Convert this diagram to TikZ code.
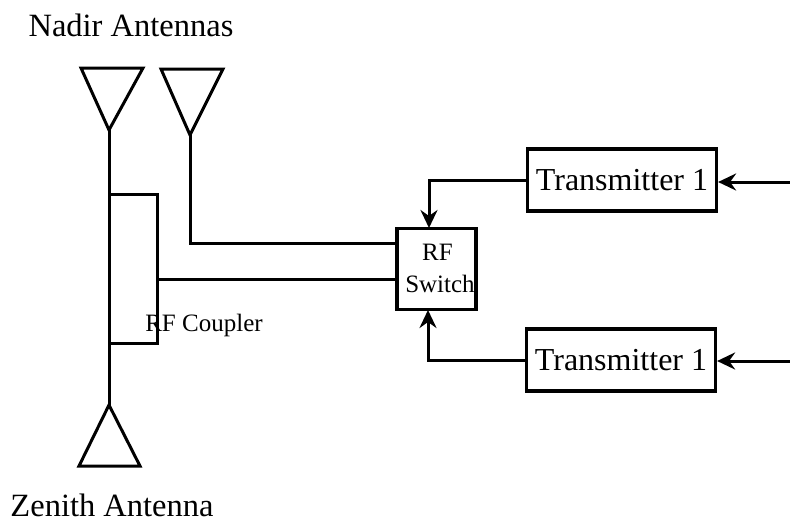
\documentclass[tikz,border=0pt]{standalone}
\usepackage{fontspec}
\setmainfont{Liberation Serif}
\usetikzlibrary{arrows.meta}

\tikzset{
  wire/.style={line width=3pt},
  feed/.style={wire, -{Stealth[length=18pt,width=17pt,inset=6pt]}},
  txbox/.style={draw, rectangle, line width=3.2pt, minimum width=189pt, minimum height=62pt, inner sep=0pt, font=\fontsize{32}{32}\selectfont},
  swbox/.style={draw, rectangle, line width=3.2pt, minimum width=79pt, minimum height=81pt, inner sep=0pt},
  biglabel/.style={font=\fontsize{32.5}{32.5}\selectfont, inner sep=0pt},
  smalllabel/.style={font=\fontsize{25}{25}\selectfont, inner sep=0pt}
}

\begin{document}
\begin{tikzpicture}[x=1pt, y=-1pt]
          \useasboundingbox (0, 0) rectangle (790, 523);

          % Nodes for boxes
          \node[txbox] (T1) at (622, 180) {Transmitter 1};
          \node[txbox] (T2) at (621, 360) {Transmitter 1};
          \node[swbox] (SW) at (436.5, 269) {};

          % Labels
          \node[biglabel] (nadir) at (131, 25) {Nadir Antennas};
          \node[biglabel] (zenith) at (112, 505) {Zenith Antenna};
          \node[smalllabel] (rflabel) at (437.5, 252) {RF};
          \node[smalllabel] (swlabel) at (440, 284) {Switch};
          \node[smalllabel] (cplabel) at (204, 325) {RF Coupler};

          % Antenna points
          \coordinate (N1a) at (81, 68);
          \coordinate (N1b) at (143, 68);
          \coordinate (N1) at (109, 130);
          \coordinate (N2a) at (161, 69);
          \coordinate (N2b) at (223, 69);
          \coordinate (N2) at (190, 135);
          \coordinate (Z) at (109, 405);
          \coordinate (Za) at (79, 466);
          \coordinate (Zb) at (140, 466);

          % Coupler points
          \coordinate (C1) at (109, 194);
          \coordinate (C2) at (157, 194);
          \coordinate (C3) at (157, 343);
          \coordinate (C4) at (109, 343);
          \coordinate (C5) at (157, 279);

          % Free ends on the right
          \coordinate (T1in) at (790, 182);
          \coordinate (T2in) at (790, 361);
          \coordinate (SWa) at (429, 228);
          \coordinate (SWb) at (428, 310);

          % Antennas
          \draw [wire, line join=miter] (N1a) -- (N1b) -- (N1) -- cycle;
          \draw [wire, line join=miter] (N2a) -- (N2b) -- (N2) -- cycle;
          \draw [wire, line join=miter] (Z) -- (Za) -- (Zb) -- cycle;

          % Plain wires
          \draw [wire] (N1) -- (Z);
          \draw [wire] (C1) -- (C2) -- (C3) -- (C4);
          \draw [wire] (C5) -- (C5 -| SW.west);
          \draw [wire] (N2) |- (N2 |- 0, 243) -- (SW.west |- 0, 243);

          % Directed edges
          \draw [feed] (T1.west) -| (SWa);
          \draw [feed] (T2.west) -| (SWb);
          \draw [feed] (T1in) -- (T1in -| T1.east);
          \draw [feed] (T2in) -- (T2in -| T2.east);
        \end{tikzpicture}
\end{document}
